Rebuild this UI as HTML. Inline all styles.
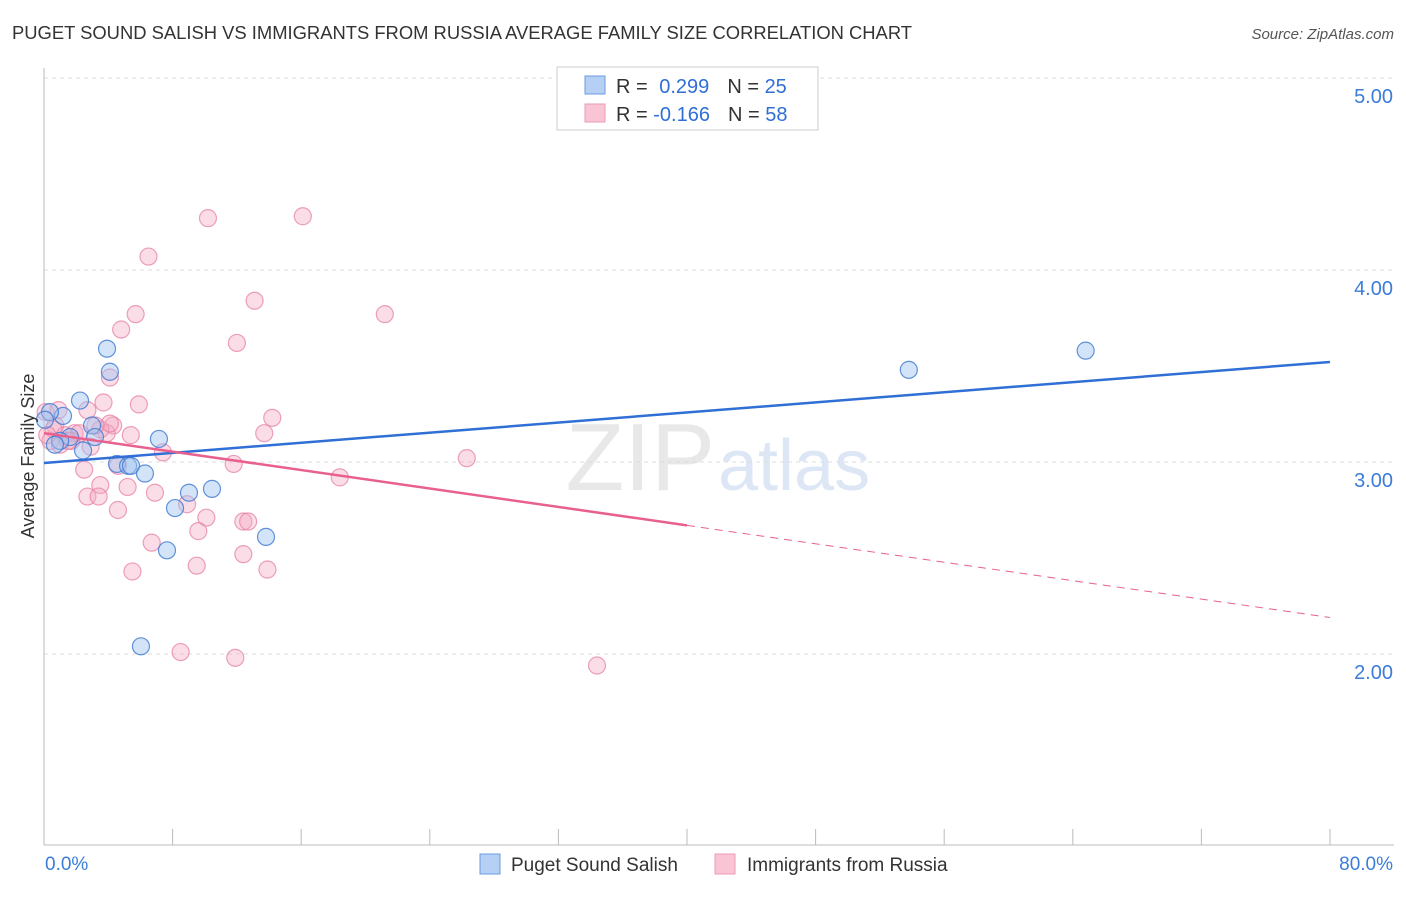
<!DOCTYPE html>
<html><head><meta charset="utf-8"><style>
body{margin:0;background:#fff;font-family:"Liberation Sans",sans-serif}
svg text{font-family:"Liberation Sans",sans-serif}
</style></head><body>
<svg id="chart" width="1406" height="892">
<text x="12" y="39" font-size="18.4" fill="#333" textLength="900">PUGET SOUND SALISH VS IMMIGRANTS FROM RUSSIA AVERAGE FAMILY SIZE CORRELATION CHART</text>
<text x="1394" y="39" font-size="15" fill="#555" font-style="italic" text-anchor="end">Source: ZipAtlas.com</text>
<text x="715" y="490" font-size="96" fill="#e8e8e8" text-anchor="end" font-family="Liberation Serif">ZIP</text>
<text x="718" y="490" font-size="72" fill="#dce6f5">atlas</text>
<g id="grid"></g><g id="axes"></g><g id="marks"></g>
<text transform="translate(34,456) rotate(-90)" font-size="18" fill="#333" text-anchor="middle">Average Family Size</text>
<g>
<rect x="557" y="67" width="261" height="63" fill="#fff" stroke="#ccc"/>
<rect x="585" y="76" width="20" height="18" fill="#b5cff5" stroke="#6c9be0"/>
<rect x="585" y="104" width="20" height="18" fill="#f9c5d5" stroke="#e99ab4"/>
<text x="616" y="93" font-size="20" fill="#333">R = <tspan fill="#2f6fd6" dx="6">0.299</tspan><tspan dx="18" fill="#333">N = </tspan><tspan fill="#2f6fd6">25</tspan></text>
<text x="616" y="121" font-size="20" fill="#333">R = <tspan fill="#2f6fd6">-0.166</tspan><tspan dx="18" fill="#333">N = </tspan><tspan fill="#2f6fd6">58</tspan></text>
</g>
<g>
<rect x="480" y="854" width="20" height="20" fill="#b5cff5" stroke="#6c9be0"/>
<text x="511" y="871" font-size="19" fill="#333">Puget Sound Salish</text>
<rect x="715" y="854" width="20" height="20" fill="#f9c5d5" stroke="#e99ab4"/>
<text x="747" y="871" font-size="19" fill="#333">Immigrants from Russia</text>
</g>
</svg>
<script>
const yTicks=[2,3,4,5];
const yTickLabels=["2.00","3.00","4.00","5.00"];
const xEndLabels=["0.0%","80.0%"];
const blueX=[3.92,4.1,2.24,1.18,0.37,2.99,3.17,1.62,1.0,2.43,7.15,4.54,5.23,5.41,6.28,10.45,9.02,8.15,13.81,7.65,6.03,53.8,64.8,0.68,0.06];
const blueY=[3.59,3.47,3.32,3.24,3.26,3.19,3.13,3.13,3.11,3.06,3.12,2.99,2.98,2.98,2.94,2.86,2.84,2.76,2.61,2.54,2.04,3.48,3.58,3.09,3.22];
const pinkX=[10.2,16.1,6.5,13.1,5.7,4.8,21.2,12.0,4.1,5.9,3.7,2.7,14.2,4.3,13.7,3.9,1.9,0.1,0.7,0.4,1.3,2.2,3.5,7.4,11.8,4.6,2.5,18.4,26.3,3.5,5.2,6.9,2.7,3.4,8.9,4.6,10.1,12.4,12.7,9.6,6.7,12.4,9.5,13.9,5.5,8.5,11.9,34.4,1.0,1.7,0.6,4.1,3.2,1.5,5.4,0.9,0.2,2.9];
const pinkY=[4.27,4.28,4.07,3.84,3.77,3.69,3.77,3.62,3.44,3.30,3.31,3.27,3.23,3.19,3.15,3.15,3.15,3.26,3.19,3.11,3.14,3.15,3.17,3.05,2.99,2.98,2.96,2.92,3.02,2.88,2.87,2.84,2.82,2.82,2.78,2.75,2.71,2.69,2.69,2.64,2.58,2.52,2.46,2.44,2.43,2.01,1.98,1.94,3.09,3.11,3.17,3.20,3.19,3.11,3.14,3.27,3.14,3.08];
const blueTrend=[2.995,3.521];
const pinkTrend=[3.15,2.67,2.19];
const NS="http://www.w3.org/2000/svg";
const sx=v=>44+v/80*1286;
const sy=v=>462-(v-3)*192;
function mk(p,t,a){const e=document.createElementNS(NS,t);for(const k in a)e.setAttribute(k,a[k]);document.getElementById(p).appendChild(e);return e;}
yTicks.forEach((t,i)=>{
 const g=mk('grid','line',{x1:44,x2:1394,y1:sy(t),y2:sy(t),stroke:'#ddd','stroke-dasharray':'4,4'});
 
 
 const l=mk('axes','text',{x:1393,y:sy(t)+25,'font-size':20,fill:'#3b7dd8','text-anchor':'end'});
 l.textContent=yTickLabels[i];
 
 
});
mk('axes','line',{x1:44,x2:44,y1:68,y2:845,stroke:'#bbb'});
mk('axes','line',{x1:44,x2:1394,y1:845,y2:845,stroke:'#bbb'});
for(let i=0;i<=10;i++){const x=sx(i*8);const t=mk('axes','line',{x1:x,x2:x,y1:829,y2:845,stroke:'#bbb'});
 
 }
const xl0=mk('axes','text',{x:45,y:870,'font-size':19,fill:'#3b7dd8'});xl0.textContent=xEndLabels[0];


const xl1=mk('axes','text',{x:1393,y:870,'font-size':19,fill:'#3b7dd8','text-anchor':'end'});xl1.textContent=xEndLabels[1];


pinkX.forEach((v,i)=>{const c=mk('marks','circle',{cx:sx(v),cy:sy(pinkY[i]),r:8.5,fill:'rgba(246,170,195,0.4)',stroke:'rgba(230,130,165,0.75)','stroke-width':1.2});
 
 });
blueX.forEach((v,i)=>{const c=mk('marks','circle',{cx:sx(v),cy:sy(blueY[i]),r:8.5,fill:'rgba(160,195,240,0.45)',stroke:'rgba(60,120,210,0.8)','stroke-width':1.2});
 
 });
const bl=mk('marks','line',{x1:sx(0),y1:sy(blueTrend[0]),x2:sx(80),y2:sy(blueTrend[1]),stroke:'#2f6fd6','stroke-width':2.5});


const pl=mk('marks','line',{x1:sx(0),y1:sy(pinkTrend[0]),x2:sx(40),y2:sy(pinkTrend[1]),stroke:'#e8608e','stroke-width':2.5});


const pd=mk('marks','line',{x1:sx(40),y1:sy(pinkTrend[1]),x2:sx(80),y2:sy(pinkTrend[2]),stroke:'#e8608e','stroke-width':1,'stroke-dasharray':'8,6'});


</script>
</body></html>
